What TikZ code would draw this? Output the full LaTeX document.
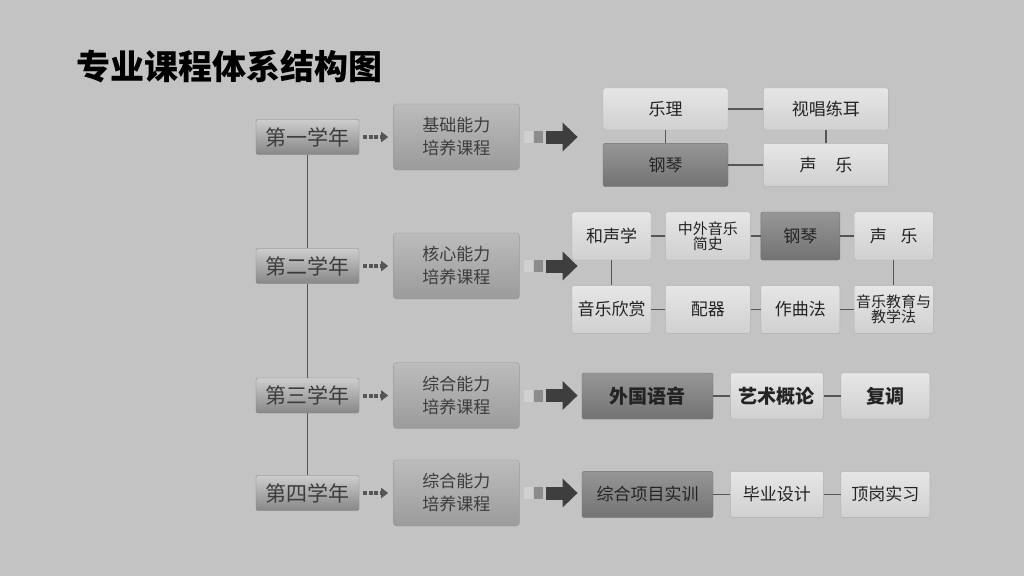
\documentclass[tikz,border=0pt]{standalone}
\usepackage{fontspec}
\setmainfont{Noto Sans CJK SC}
\usepackage{tikz}
\usetikzlibrary{positioning}
\usetikzlibrary{arrows.meta}
\usetikzlibrary{calc}

\definecolor{bg}{RGB}{195,195,195}
\definecolor{yhi}{RGB}{205,205,205}
\definecolor{ylo}{RGB}{135,135,135}
\definecolor{mhi}{RGB}{188,188,188}
\definecolor{mlo}{RGB}{155,155,155}
\definecolor{lhi}{RGB}{230,230,230}
\definecolor{llo}{RGB}{208,208,208}
\definecolor{dhi}{RGB}{150,150,150}
\definecolor{dlo}{RGB}{115,115,115}
\definecolor{ink}{RGB}{35,35,35}
\definecolor{yink}{RGB}{60,60,60}
\definecolor{linecol}{RGB}{85,85,85}
\definecolor{arrdark}{RGB}{62,62,62}
\definecolor{sqlight}{RGB}{208,208,208}
\definecolor{sqmid}{RGB}{140,140,140}

\begin{document}
\begin{tikzpicture}[x=1pt,y=-1pt,
year/.style={rectangle,rounded corners=2pt,minimum width=103pt,minimum height=35pt,inner sep=0pt,top color=yhi,bottom color=ylo,draw=ylo,text=yink,font=\fontsize{21}{25}\selectfont},
ability/.style={rectangle,rounded corners=3pt,minimum width=126pt,minimum height=66pt,inner sep=0pt,top color=mhi,bottom color=mlo,draw=mlo,text=yink,align=center,font=\fontsize{17}{23}\selectfont},
light/.style={rectangle,rounded corners=2pt,inner sep=0pt,top color=lhi,bottom color=llo,draw=llo!85!black,text=ink,align=center,font=\fontsize{17}{15}\selectfont},
dark/.style={rectangle,rounded corners=2pt,inner sep=0pt,top color=dhi,bottom color=dlo,draw=dlo,text=ink,align=center,font=\fontsize{17}{15}\selectfont},
link/.style={draw=linecol,line width=1.5pt},
smallarr/.style={draw=linecol,line width=4pt,dash pattern=on 4pt off 1.5pt,shorten <=4pt,shorten >=5pt,-{Triangle[length=7pt,width=10pt]}},
bigarr/.style={draw=arrdark,line width=13pt,shorten <=26pt,-{Triangle[length=15pt,width=28pt]}}
]
\path[use as bounding box,fill=bg] (0,0) rectangle (1024,576);

\node[anchor=west,inner sep=0pt,font=\fontsize{34}{36}\selectfont\bfseries](title) at (76,67){专业课程体系结构图};

\node[year](y1) at (307.5,137){第一学年};
\node[year](y2) at (307.5,266){第二学年};
\node[year](y3) at (307.5,395.5){第三学年};
\node[year](y4) at (307.5,493){第四学年};
\draw[link] (y1) -- (y2) -- (y3) -- (y4);

\node[ability,right = 34pt of y1](m1){基础能力\\培养课程};
\node[ability,right = 34pt of y2](m2){核心能力\\培养课程};
\node[ability,right = 34pt of y3](m3){综合能力\\培养课程};
\node[ability,right = 34pt of y4](m4){综合能力\\培养课程};

\foreach \i in {1,...,4}{
\path (y\i) edge[smallarr] (m\i);
\coordinate[right = 58pt of m\i](t\i);
\fill[sqlight] ($(m\i.east)+(4pt,-6pt)$) rectangle ++(9pt,12pt);
\fill[sqmid] ($(m\i.east)+(14pt,-6pt)$) rectangle ++(9pt,12pt);
\draw[bigarr] (m\i.east) -- (t\i);
}

\node[light,minimum width=125pt,minimum height=42pt](a1) at (665.5,109){乐理};
\node[light,minimum width=125pt,minimum height=42pt,right = 35pt of a1](a2){视唱练耳};
\node[dark,minimum width=125pt,minimum height=43pt,below = 13pt of a1](a3){钢琴};
\node[light,minimum width=125pt,minimum height=43pt,below = 13pt of a2](a4){声\hspace{1.1em}乐};
\path (a1) edge[link] (a2);
\path (a1) edge[link] (a3);
\path (a2) edge[link] (a4);
\path (a3) edge[link] (a4);

\node[light,minimum width=79pt,minimum height=48pt](b1) at (611.5,236){和声学};
\node[light,minimum width=85pt,minimum height=48pt,right = 14pt of b1,font=\fontsize{15}{15}\selectfont](b2){中外音乐\\简史};
\node[dark,minimum width=79pt,minimum height=48pt,right = 10pt of b2](b3){钢琴};
\node[light,minimum width=79pt,minimum height=48pt,right = 14pt of b3](b4){声\hspace{0.8em}乐};
\node[light,minimum width=79pt,minimum height=48pt,below = 25pt of b1](b5){音乐欣赏};
\node[light,minimum width=85pt,minimum height=48pt,below = 25pt of b2](b6){配器};
\node[light,minimum width=79pt,minimum height=48pt,below = 25pt of b3](b7){作曲法};
\node[light,minimum width=79pt,minimum height=48pt,below = 25pt of b4,font=\fontsize{15}{15}\selectfont](b8){音乐教育与\\教学法};
\path (b1) edge[link] (b2);
\path (b2) edge[link] (b3);
\path (b3) edge[link] (b4);
\path (b1) edge[link] (b5);
\path (b4) edge[link] (b8);
\path (b5) edge[link] (b6);
\path (b6) edge[link] (b7);
\path (b7) edge[link] (b8);

\node[dark,minimum width=131pt,minimum height=46pt,font=\fontsize{19}{20}\selectfont\bfseries](c1) at (647.5,396){外国语音};
\node[light,minimum width=93pt,minimum height=46pt,right = 17pt of c1,font=\fontsize{19}{20}\selectfont\bfseries](c2){艺术概论};
\node[light,minimum width=89pt,minimum height=46pt,right = 17pt of c2,font=\fontsize{19}{20}\selectfont\bfseries](c3){复调};
\path (c1) edge[link] (c2);
\path (c2) edge[link] (c3);

\node[dark,minimum width=131pt,minimum height=46pt,below = 52pt of c1](d1){综合项目实训};
\node[light,minimum width=93pt,minimum height=46pt,right = 17pt of d1](d2){毕业设计};
\node[light,minimum width=89pt,minimum height=46pt,right = 17pt of d2](d3){顶岗实习};
\path (d1) edge[link] (d2);
\path (d2) edge[link] (d3);

\end{tikzpicture}
\end{document}
